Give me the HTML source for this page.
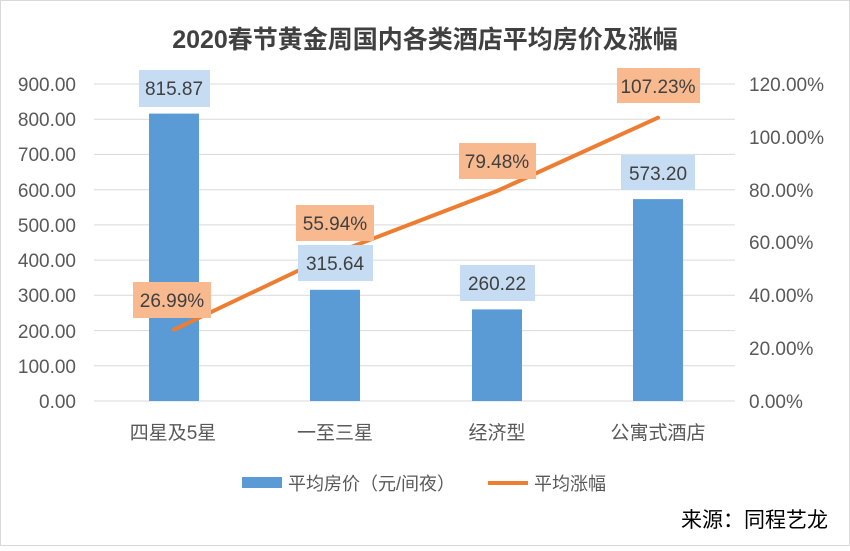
<!DOCTYPE html><html><head><meta charset="utf-8"><style>body{margin:0;background:#fff}</style></head><body>
<svg width="850" height="546" xmlns="http://www.w3.org/2000/svg" font-family="'Liberation Sans','Noto Sans CJK SC',sans-serif">
<rect x="0.5" y="0.5" width="849" height="545" fill="#fff" stroke="#d9d9d9"/>
<text x="425" y="48" text-anchor="middle" font-size="25" font-weight="bold" fill="#404040">2020春节黄金周国内各类酒店平均房价及涨幅</text>
<g stroke="#d9d9d9" stroke-width="1">
<line x1="94" x2="735" y1="84" y2="84"/><line x1="94" x2="735" y1="119.2" y2="119.2"/><line x1="94" x2="735" y1="154.4" y2="154.4"/><line x1="94" x2="735" y1="189.7" y2="189.7"/><line x1="94" x2="735" y1="224.9" y2="224.9"/><line x1="94" x2="735" y1="260.1" y2="260.1"/><line x1="94" x2="735" y1="295.3" y2="295.3"/><line x1="94" x2="735" y1="330.6" y2="330.6"/><line x1="94" x2="735" y1="365.8" y2="365.8"/><line x1="94" x2="735" y1="401" y2="401"/>
</g>
<g font-size="19" fill="#595959" text-anchor="end">
<text x="76" y="91">900.00</text><text x="76" y="126">800.00</text><text x="76" y="161">700.00</text><text x="76" y="197">600.00</text><text x="76" y="232">500.00</text><text x="76" y="267">400.00</text><text x="76" y="302">300.00</text><text x="76" y="338">200.00</text><text x="76" y="373">100.00</text><text x="76" y="408">0.00</text>
</g>
<g font-size="19" fill="#595959">
<text x="749" y="91">120.00%</text><text x="749" y="144">100.00%</text><text x="749" y="197">80.00%</text><text x="749" y="249">60.00%</text><text x="749" y="302">40.00%</text><text x="749" y="355">20.00%</text><text x="749" y="408">0.00%</text>
</g>
<g fill="#5b9bd5">
<rect x="149" y="113.6" width="50" height="287.4"/><rect x="310" y="289.8" width="50" height="111.2"/><rect x="472" y="309.4" width="50" height="91.6"/><rect x="633" y="199.1" width="50" height="201.9"/>
</g>
<polyline points="174,329.7 335,253.2 497,191 658,117.7" fill="none" stroke="#ed7d31" stroke-width="4" stroke-linecap="round"/>
<g fill="#c5dcf2"><rect x="139" y="70" width="71" height="37"/><rect x="298" y="245" width="75" height="36"/><rect x="460" y="265" width="75" height="36"/><rect x="621" y="155" width="74" height="35"/></g>
<g fill="#f8b98f"><rect x="133" y="282" width="78" height="36"/><rect x="296" y="205" width="78" height="36"/><rect x="459" y="143" width="77" height="36"/><rect x="617" y="68" width="83" height="35"/></g>
<g font-size="19" fill="#404040" text-anchor="middle">
<text x="174" y="95">815.87</text><text x="335" y="270">315.64</text><text x="497" y="290">260.22</text><text x="658" y="180">573.20</text>
<text x="172" y="307">26.99%</text><text x="335" y="230">55.94%</text><text x="497" y="168">79.48%</text><text x="658" y="93">107.23%</text>
</g>
<g font-size="19" fill="#595959" text-anchor="middle">
<text x="173" y="439">四星及5星</text><text x="335" y="439">一至三星</text><text x="497" y="439">经济型</text><text x="658" y="439">公寓式酒店</text>
</g>
<rect x="242" y="477" width="40" height="11" fill="#5b9bd5"/>
<text x="288" y="490" font-size="18" fill="#595959">平均房价（元/间夜）</text>
<line x1="488" x2="528" y1="483" y2="483" stroke="#ed7d31" stroke-width="4"/>
<text x="534" y="490" font-size="18" fill="#595959">平均涨幅</text>
<text x="828" y="527" font-size="21" fill="#000" text-anchor="end">来源：同程艺龙</text>
</svg></body></html>
